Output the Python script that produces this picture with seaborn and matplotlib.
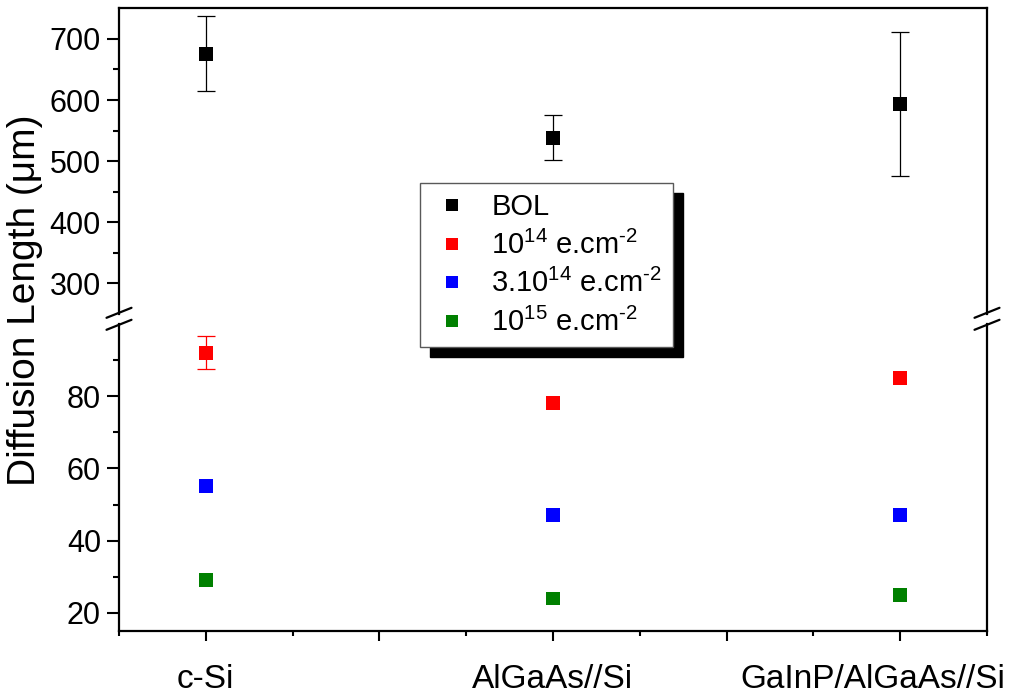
import numpy as np
import pandas as pd
import matplotlib
matplotlib.use("Agg")
import matplotlib.pyplot as plt
import seaborn as sns
from matplotlib.lines import Line2D
from matplotlib.ticker import FixedLocator
from matplotlib.transforms import ScaledTranslation

# ---------------- data ----------------
categories = ["c-Si", "AlGaAs//Si", "GaInP/AlGaAs//Si"]
series_names = ["BOL", r"10$^{14}$ e.cm$^{\text{-2}}$", r"3.10$^{14}$ e.cm$^{\text{-2}}$",
                r"10$^{15}$ e.cm$^{\text{-2}}$"]
bol = [676, 538, 594]
bol_err = [61, 37, 118]
d1e14 = [92, 78, 85]
d1e14_err = [4.6, 0, 0]
d3e14 = [55, 47, 47]
d1e15 = [29, 24, 25]
colors = ["#000000", "#ff0000", "#0000ff", "#008000"]

# ---------------- style ----------------
sns.set_theme(style="ticks")
plt.rcParams['font.family'] = ['Liberation Sans', 'DejaVu Sans']
plt.rcParams['mathtext.fontset'] = 'custom'
plt.rcParams['mathtext.rm'] = 'Liberation Sans'
plt.rcParams['mathtext.it'] = 'Liberation Sans:italic'
plt.rcParams['mathtext.bf'] = 'Liberation Sans:bold'
plt.rcParams['mathtext.default'] = 'rm'
for k in ('text.color', 'axes.labelcolor', 'xtick.color', 'ytick.color', 'axes.edgecolor'):
    plt.rcParams[k] = 'black'

pos = [1 + 2 * i for i in range(len(categories))]
values = [bol, d1e14, d3e14, d1e15]
rows = []
for name, vals in zip(series_names, values):
    for p, v in zip(pos, vals):
        rows.append({"pos": p, "value": v, "series": name})
df = pd.DataFrame(rows)

# only draw error bars where an error was measured
red_err = np.where(np.array(d1e14_err) > 0, d1e14_err, np.nan)

W, H = 1016, 699
fig = plt.figure(figsize=(W / 100, H / 100), dpi=100)
left = 119 / W
width = (987 - 119) / W
ax_top = fig.add_axes([left, 1 - 313.8 / H, width, 305.4 / H])
ax_bot = fig.add_axes([left, 1 - 631 / H, width, 307.2 / H])

for ax, leg in ((ax_top, False), (ax_bot, True)):
    ax.errorbar(pos, bol, yerr=bol_err, fmt='none', ecolor='black',
                elinewidth=0.9, capsize=6.5, capthick=0.9, zorder=2)
    ax.errorbar(pos, d1e14, yerr=red_err, fmt='none', ecolor='#ff0000',
                elinewidth=0.9, capsize=6.5, capthick=0.9, zorder=2)
    sns.scatterplot(data=df, x="pos", y="value", hue="series",
                    hue_order=series_names, palette=colors, marker='s',
                    s=100, linewidth=0, ax=ax, legend=leg, zorder=3)
    ax.set_xlim(0.5, 5.5)
    ax.set_xlabel("")
    ax.set_ylabel("")
    for sp in ax.spines.values():
        sp.set_linewidth(1.6)
        sp.set_color('black')

ax_top.set_ylim(250, 750)
ax_bot.set_ylim(15, 100)
ax_top.spines['bottom'].set_visible(False)
ax_bot.spines['top'].set_visible(False)

ax_top.yaxis.set_major_locator(FixedLocator([300, 400, 500, 600, 700]))
ax_top.yaxis.set_minor_locator(FixedLocator([350, 450, 550, 650]))
ax_bot.yaxis.set_major_locator(FixedLocator([20, 40, 60, 80]))
ax_bot.yaxis.set_minor_locator(FixedLocator([30, 50, 70, 90]))

ax_top.tick_params(axis='x', which='both', bottom=False, top=False, labelbottom=False)
ax_bot.set_xticks([1, 2, 3, 4, 5])
ax_bot.set_xticklabels([categories[0], "", categories[1], "", categories[2]])
ax_bot.xaxis.set_minor_locator(FixedLocator([0.5, 1.5, 2.5, 3.5, 4.5, 5.5]))

for ax in (ax_top, ax_bot):
    ax.tick_params(axis='y', which='major', direction='out', length=9, width=1.5,
                   labelsize=22, pad=4, colors='black', left=True, right=False)
    ax.tick_params(axis='y', which='minor', direction='out', length=4.5, width=1.5,
                   left=True, right=False)
ax_bot.tick_params(axis='x', which='major', direction='out', length=7.5, width=1.5,
                   labelsize=24, pad=16, colors='black', top=False)
ax_bot.tick_params(axis='x', which='minor', direction='out', length=3.5, width=1.5, top=False)

# shift the last category label left so it stays inside the figure
last = ax_bot.get_xticklabels()[-1]
last.set_transform(last.get_transform() + ScaledTranslation(-27 / 100, 0, fig.dpi_scale_trans))

# break marks on both vertical spines
gap_y = 0.5 * (ax_top.get_position().y0 + ax_bot.get_position().y1)
for xs in (ax_top.get_position().x0, ax_top.get_position().x1):
    for dy in (-6, 6):
        x0 = xs - 12.5 / W
        x1 = xs + 12.5 / W
        y0 = gap_y + (dy - 5) / H
        y1 = gap_y + (dy + 5) / H
        fig.add_artist(Line2D([x0, x1], [y0, y1], transform=fig.transFigure,
                              color='black', linewidth=1.6))

# y label
fig.text(25 / W, 1 - 300 / H, "Diffusion Length (\u03bcm)", rotation=90,
         ha='center', va='center', fontsize=28, color='black')

# legend
handles, labels = ax_bot.get_legend_handles_labels()
ax_bot.get_legend().remove()
leg = fig.legend(handles, labels, loc='upper left',
                 bbox_to_anchor=(420 / W, 1 - 183 / H), fontsize=21,
                 borderaxespad=0,
                 frameon=True, fancybox=False, framealpha=1,
                 edgecolor='0.35', handletextpad=0.6, labelspacing=0.32,
                 borderpad=0.35, handlelength=1.5, markerscale=0.85,
                 shadow={'ox': 7.2, 'oy': -7.2, 'facecolor': 'black',
                         'edgecolor': 'black', 'alpha': 1})
leg.get_frame().set_linewidth(1.0)

fig.savefig("out.png", dpi=100)
